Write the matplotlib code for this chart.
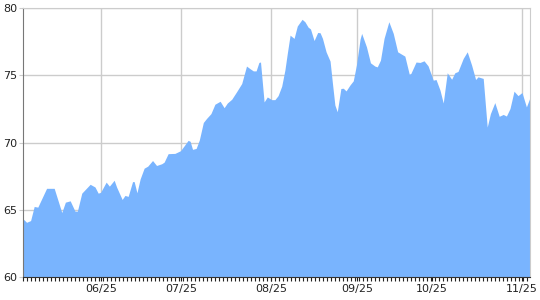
import numpy as np
import matplotlib
matplotlib.use("Agg")
import matplotlib.pyplot as plt
from matplotlib.ticker import MultipleLocator

# session index (trading days from start) and value at each vertex
days = [0.0, 0.9, 1.9, 2.8, 3.7, 5.9, 7.8, 9.7, 10.6, 11.8, 13.0, 13.6, 14.7, 16.8,
        18.0, 18.8, 19.4, 20.8, 21.6, 22.8, 23.4, 24.8, 25.5, 26.3, 27.4, 27.8, 28.5,
        29.3, 30.3, 31.2, 32.4, 33.4, 34.7, 35.3, 36.3, 38.0, 39.4, 41.3, 41.8, 42.4,
        43.3, 44.1, 45.1, 45.9, 47.0, 48.0, 49.3, 50.3, 51.1, 52.2, 53.4, 54.7, 55.9,
        56.8, 57.6, 58.3, 59.0, 59.4, 60.3, 61.1, 62.2, 63.0, 63.8, 64.7, 65.5, 66.1,
        66.8, 67.8, 68.6, 69.8, 70.5, 71.3, 71.9, 72.8, 73.7, 74.3, 74.9, 75.8, 76.8,
        77.4, 78.0, 78.6, 79.5, 80.1, 80.8, 81.8, 82.6, 83.4, 84.3, 84.7, 85.9, 86.9,
        88.0, 88.6, 89.4, 90.3, 91.5, 92.6, 93.7, 95.5, 96.6, 97.0, 98.3, 99.3, 100.3,
        101.3, 102.6, 103.3, 104.3, 105.1, 106.1, 107.2, 108.0, 108.8, 110.1, 111.1,
        112.2, 113.2, 113.8, 115.1, 116.1, 116.9, 118.0, 119.1, 120.1, 120.9, 121.8,
        122.8, 123.8, 124.8, 125.9, 126.8]
values = [64.33, 64.07, 64.2, 65.25, 65.2, 66.6, 66.6, 64.8, 65.57, 65.67, 64.9, 64.9,
          66.24, 66.9, 66.7, 66.24, 66.3, 67.06, 66.76, 67.2, 66.7, 65.77, 66.07, 66.0,
          67.1, 67.1, 66.27, 67.3, 68.1, 68.25, 68.67, 68.3, 68.43, 68.55, 69.18, 69.2,
          69.4, 70.17, 70.1, 69.5, 69.57, 70.2, 71.5, 71.8, 72.16, 72.86, 73.08, 72.6,
          72.95, 73.23, 73.78, 74.4, 75.7, 75.5, 75.34, 75.34, 75.97, 76.0, 73.03, 73.4,
          73.2, 73.2, 73.5, 74.2, 75.4, 76.64, 78.0, 77.76, 78.68, 79.18, 79.0, 78.6,
          78.46, 77.6, 78.2, 78.18, 77.76, 76.76, 76.07, 74.4, 72.8, 72.3, 74.03, 74.05,
          73.85, 74.3, 74.6, 75.8, 77.7, 78.13, 77.13, 75.94, 75.7, 75.64, 76.14, 77.76,
          79.0, 78.13, 76.76, 76.44, 75.1, 75.15, 76.0, 75.97, 76.09, 75.72, 74.65, 74.7,
          73.9, 72.95, 75.2, 74.72, 75.2, 75.3, 76.27, 76.76, 75.77, 74.7, 74.9, 74.78,
          71.16, 72.16, 72.98, 71.96, 72.1, 71.98, 72.54, 73.83, 73.5, 73.73, 72.66, 73.36]

month_pos = [19.6, 39.5, 62.1, 83.6, 102.3, 124.8]
month_labels = ["06/25", "07/25", "08/25", "09/25", "10/25", "11/25"]
y_ticks = [60, 65, 70, 75, 80]

fig = plt.figure(figsize=(5.4, 3.0), dpi=100)
ax = fig.add_axes([23 / 540, 1 - 277 / 300, 507 / 540, (277 - 8.3) / 300])

ax.fill_between(days, values, 60, color="#79b4fe", linewidth=0, zorder=2)

ax.set_xlim(0, 126.8)
ax.set_ylim(60, 80)
ax.set_yticks(y_ticks)
ax.set_xticks(month_pos)
ax.set_xticklabels(month_labels)
ax.xaxis.set_minor_locator(MultipleLocator(1))

ax.grid(True, which="major", color="#cccccc", linewidth=1, zorder=0)
ax.set_axisbelow(True)

for side in ("top", "right"):
    ax.spines[side].set_color("#cccccc")
ax.spines["left"].set_color("#777777")
ax.spines["bottom"].set_color("#333333")
for s in ax.spines.values():
    s.set_zorder(3)

ax.tick_params(axis="y", length=3, color="#cccccc", pad=1, labelsize=8, labelcolor="#222222")
ax.tick_params(axis="x", which="major", length=3, color="#222222", pad=2, labelsize=8, labelcolor="#222222")
ax.tick_params(axis="x", which="minor", length=3, color="#222222", width=0.8)

plt.savefig("out.png", dpi=100)
